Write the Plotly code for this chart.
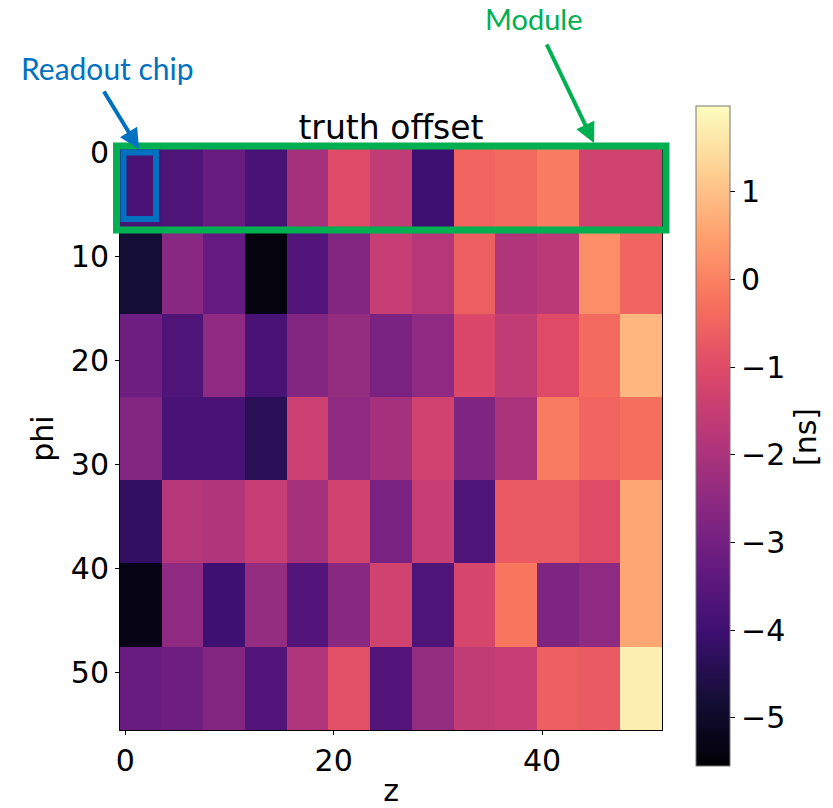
import plotly.graph_objects as go

# z block edges (4 columns per readout chip) and phi block edges (8 rows per module)
z_edges = [-0.5, 3.5, 7.5, 11.5, 15.5, 19.5, 23.5, 27.5, 31.5, 35.5, 39.5, 43.5, 47.5, 51.5]
phi_edges = [-0.5, 7.5, 15.5, 23.5, 31.5, 39.5, 47.5, 55.5]

# truth offset [ns] per readout-chip block, one list per phi block (rows), 13 z blocks each
row_phi_0 = [-3.8, -3.7, -3.2, -3.8, -2.1, -1.0, -1.6, -4.0, -0.5, -0.4, -0.1, -1.3, -1.3]
row_phi_8 = [-4.8, -2.6, -3.3, -5.4, -3.6, -2.7, -1.5, -1.8, -0.6, -1.9, -1.7, 0.2, -0.5]
row_phi_16 = [-3.1, -3.7, -2.5, -3.8, -2.7, -2.4, -2.9, -2.5, -1.1, -1.6, -1.0, -0.4, 0.85]
row_phi_24 = [-2.7, -3.8, -3.8, -4.4, -1.4, -2.5, -2.1, -1.3, -2.8, -2.0, -0.1, -0.5, -0.3]
row_phi_32 = [-4.2, -1.8, -1.9, -1.5, -2.1, -1.3, -2.9, -1.5, -3.7, -0.7, -0.7, -1.0, 0.6]
row_phi_40 = [-5.3, -2.5, -4.0, -2.4, -3.6, -2.6, -1.3, -3.7, -1.2, -0.2, -2.8, -2.5, 0.6]
row_phi_48 = [-3.2, -3.1, -2.7, -3.6, -1.9, -0.9, -3.6, -2.4, -1.6, -1.5, -0.6, -0.7, 1.75]

offsets = [row_phi_0, row_phi_8, row_phi_16, row_phi_24, row_phi_32, row_phi_40, row_phi_48]

x_ticks = [0, 20, 40]
y_ticks = [0, 10, 20, 30, 40, 50]
cbar_ticks = [-5, -4, -3, -2, -1, 0, 1]

magma = [
    [0.0, "#000004"], [0.1, "#140e36"], [0.2, "#3b0f70"], [0.3, "#641a80"],
    [0.4, "#8c2981"], [0.5, "#b73779"], [0.6, "#de4968"], [0.7, "#f7705c"],
    [0.8, "#fe9f6d"], [0.9, "#fecf92"], [1.0, "#fcfdbf"],
]

W, H = 833, 808
L, R, T, B = 120, 171, 147, 78
pw, ph = W - L - R, H - T - B


def px(xp):
    return (xp - L) / pw


def py(yp):
    return (H - B - yp) / ph


FONT = "'DejaVu Sans', sans-serif"

fig = go.Figure(
    go.Heatmap(
        z=offsets,
        x=z_edges,
        y=phi_edges,
        colorscale=magma,
        zmin=-5.55,
        zmax=1.98,
        colorbar=dict(
            x=px(696),
            xanchor="left",
            xref="paper",
            xpad=0,
            y=py(436),
            yanchor="middle",
            yref="paper",
            ypad=0,
            len=660 / ph,
            lenmode="fraction",
            thickness=34,
            outlinewidth=1,
            outlinecolor="#777777",
            tickvals=cbar_ticks,
            ticks="outside",
            ticklen=5,
            tickcolor="black",
            tickfont=dict(family=FONT, size=30, color="black"),
        ),
    )
)

axis_common = dict(
    ticks="outside",
    ticklen=4,
    tickcolor="black",
    ticklabelstandoff=0,
    automargin=False,
    showline=True,
    linecolor="black",
    linewidth=1,
    mirror=True,
    showgrid=False,
    zeroline=False,
    tickfont=dict(family=FONT, size=30, color="black"),
)

fig.update_xaxes(
    range=[-0.5, 51.5],
    tickvals=x_ticks,
    title=dict(text="z", font=dict(family=FONT, size=30, color="black"), standoff=8),
    **axis_common,
)
fig.update_yaxes(
    range=[55.5, -0.5],
    tickvals=y_ticks,
    title=dict(text="phi", font=dict(family=FONT, size=30, color="black"), standoff=8),
    **axis_common,
)

GREEN = "#00b050"
BLUE = "#0070c0"

shapes = [
    dict(type="rect", xref="paper", yref="paper",
         x0=px(116.5), x1=px(666), y0=py(230), y1=py(146),
         line=dict(color=GREEN, width=7), fillcolor="rgba(0,0,0,0)"),
    dict(type="rect", xref="paper", yref="paper",
         x0=px(123.5), x1=px(156), y0=py(219), y1=py(152.5),
         line=dict(color=BLUE, width=6), fillcolor="rgba(0,0,0,0)"),
]

annotations = [
    dict(text="Readout chip", xref="paper", yref="paper", x=px(107), y=py(68),
         xanchor="center", yanchor="middle",
         showarrow=False, font=dict(family="Lato", size=30, color=BLUE)),
    dict(text="Module", xref="paper", yref="paper", x=px(533), y=py(18),
         xanchor="center", yanchor="middle",
         showarrow=False, font=dict(family="Lato", size=29, color=GREEN)),
    dict(text="", xref="paper", yref="paper", x=px(139), y=py(149),
         ax=103 - 139, ay=90 - 149, showarrow=True, arrowhead=2, arrowsize=1,
         arrowwidth=4, arrowcolor=BLUE, standoff=0),
    dict(text="", xref="paper", yref="paper", x=px(594), y=py(143),
         ax=546 - 594, ay=43 - 143, showarrow=True, arrowhead=2, arrowsize=1,
         arrowwidth=4, arrowcolor=GREEN, standoff=0),
    dict(text="[ns]", xref="paper", yref="paper", x=px(805), y=py(437),
         xanchor="center", yanchor="middle",
         showarrow=False, textangle=-90,
         font=dict(family=FONT, size=30, color="black")),
]

fig.update_layout(
    width=W,
    height=H,
    autosize=False,
    margin=dict(l=L, r=R, t=T, b=B, pad=0),
    paper_bgcolor="white",
    plot_bgcolor="white",
    title=dict(text="truth offset", x=391 / W, xanchor="center",
               y=(H - 127) / H, yanchor="middle",
               font=dict(family=FONT, size=33, color="black")),
    shapes=shapes,
    annotations=annotations,
)

fig.write_html(
    "out.html",
    config={"displayModeBar": False},
    post_script="document.body.style.margin='0px';",
)
